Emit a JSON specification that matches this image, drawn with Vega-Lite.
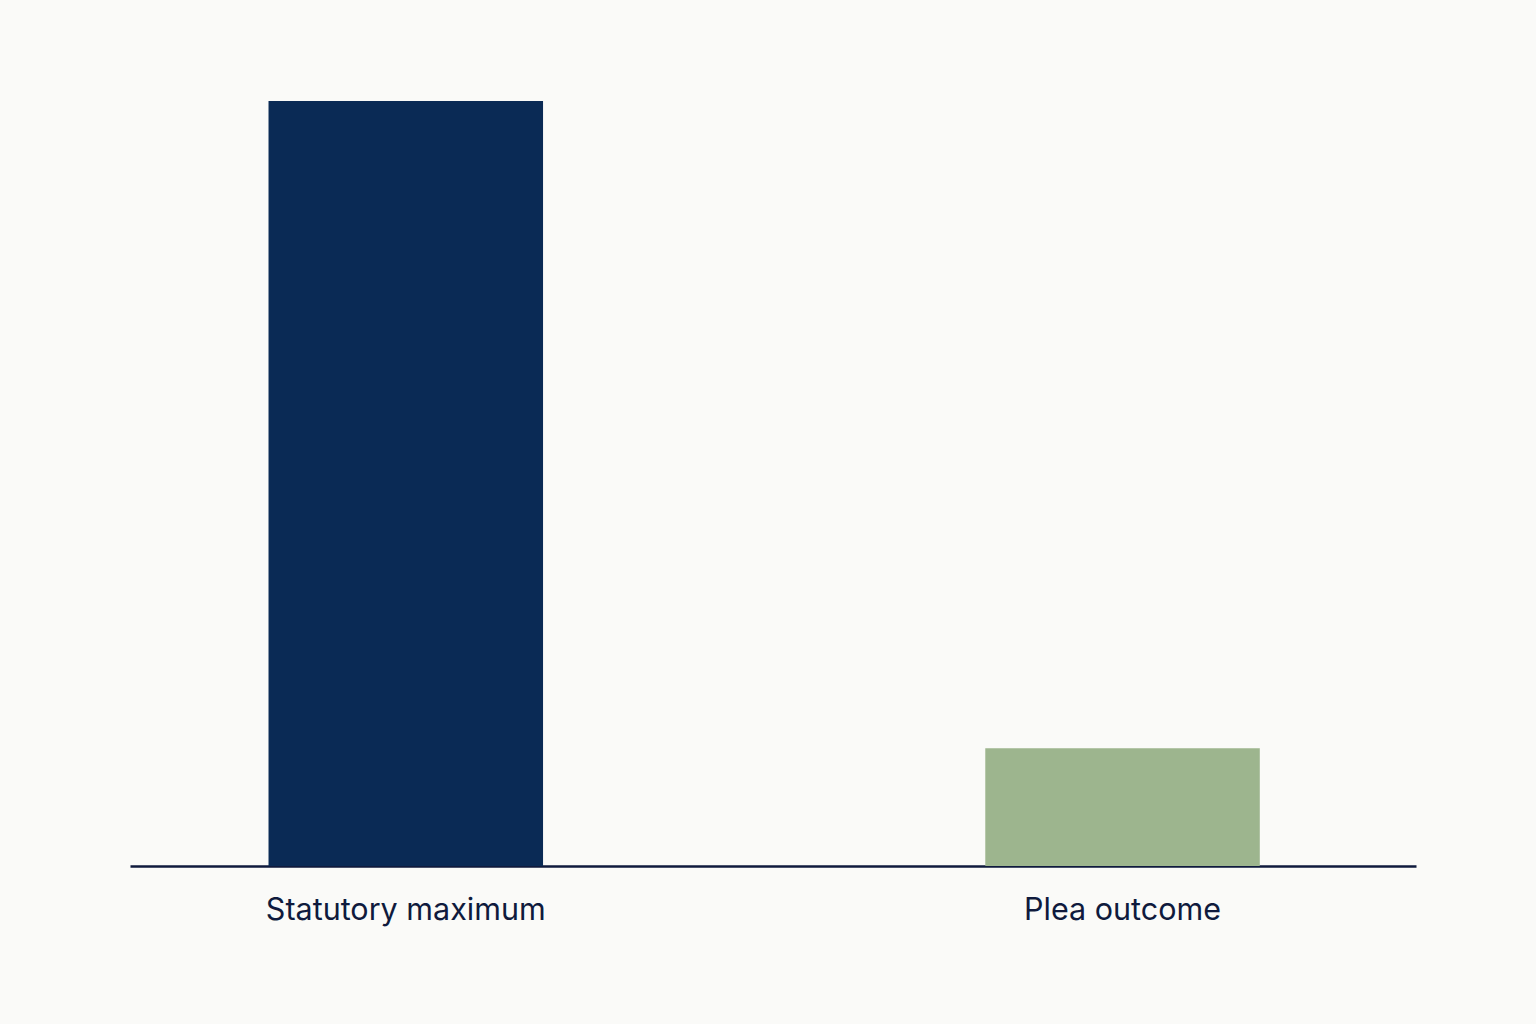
{
  "$schema": "https://vega.github.io/schema/vega-lite/v6.json",
  "width": 1286,
  "height": 765,
  "autosize": {"type": "none"},
  "padding": {"left": 130, "top": 101, "right": 120, "bottom": 158},
  "background": "#FAFAF8",
  "config": {"view": {"stroke": null}},
  "data": {"values": [
    {"category": "Statutory maximum", "value": 20},
    {"category": "Plea outcome", "value": 3.08}
  ]},
  "mark": {"type": "bar"},
  "encoding": {
    "x": {
      "field": "category", "type": "nominal", "sort": null,
      "scale": {"paddingInner": 0.617, "paddingOuter": 0.2056, "align": 0.47},
      "axis": {
        "title": null, "ticks": false, "domain": true,
        "domainColor": "#0F1A3D", "domainWidth": 2.5,
        "labelAngle": 0, "labelFont": "Inter", "labelFontSize": 30.5, "labelLimit": 0,
        "labelColor": "#0F1A3D", "labelBaseline": "alphabetic", "labelPadding": 53
      }
    },
    "y": {
      "field": "value", "type": "quantitative",
      "scale": {"domain": [0, 20], "nice": false},
      "axis": null
    },
    "color": {
      "field": "category", "type": "nominal",
      "scale": {"domain": ["Statutory maximum", "Plea outcome"], "range": ["#0A2A55", "#9DB58E"]},
      "legend": null
    }
  }
}
